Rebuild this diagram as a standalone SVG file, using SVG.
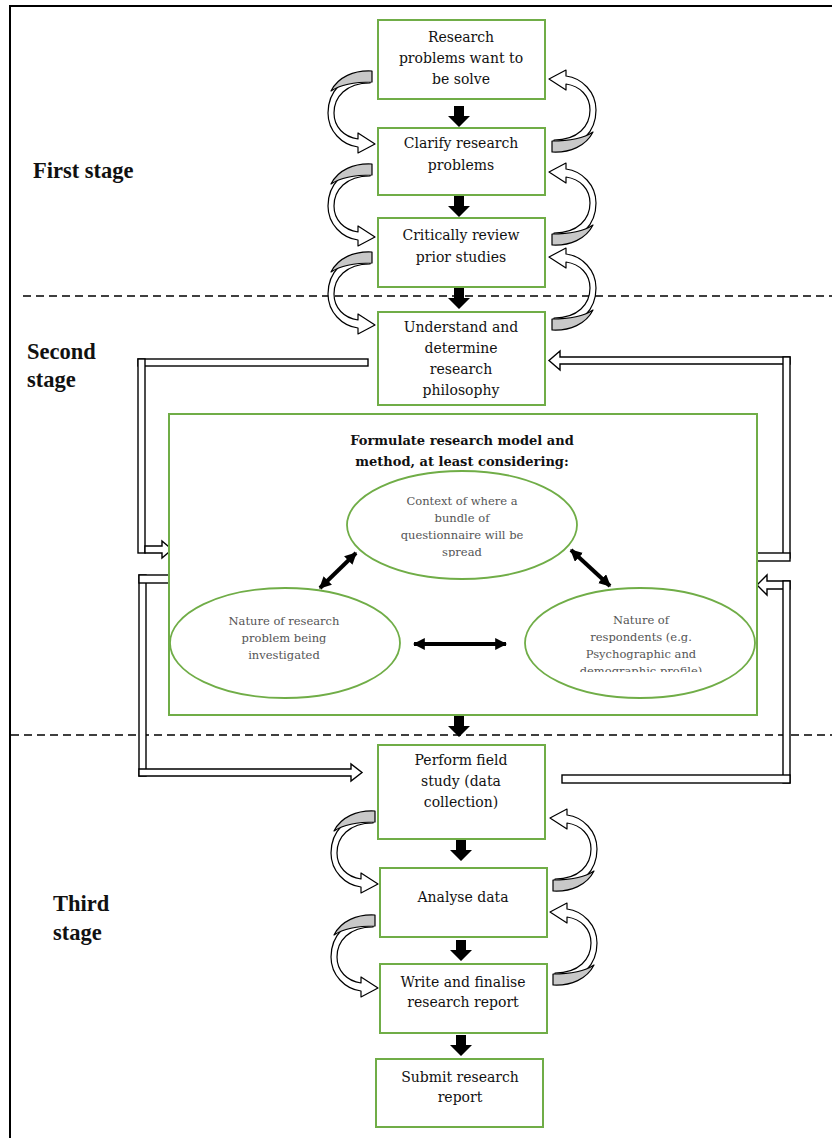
<svg xmlns="http://www.w3.org/2000/svg" xmlns:xlink="http://www.w3.org/1999/xlink" width="832" height="1138" viewBox="0 0 832 1138">
<style>
.box{fill:#fff;stroke:#70ad47;stroke-width:2}
.ell{fill:#fff;stroke:#70ad47;stroke-width:1.8}
.t{font-family:"DejaVu Serif","Liberation Serif",serif;font-size:14px;fill:#111;text-anchor:middle}
.tb{font-family:"DejaVu Serif","Liberation Serif",serif;font-size:13px;font-weight:bold;fill:#111;text-anchor:middle}
.te{font-family:"DejaVu Serif","Liberation Serif",serif;font-size:11.5px;fill:#555;text-anchor:middle}
.st{font-family:"Liberation Serif",serif;font-size:22.5px;font-weight:bold;fill:#111}
.band{fill:#fff;stroke:#000;stroke-width:1.4}
.dash{stroke:#000;stroke-width:1.5;stroke-dasharray:8,5;fill:none}
.blk{fill:#000}
.dbl{stroke:#000;stroke-width:4;fill:none}
.cw{fill:#fff;stroke:#000;stroke-width:1.2;stroke-linejoin:round}
.cg{fill:#c8c8c8;stroke:#000;stroke-width:1.2;stroke-linejoin:round}
</style>
<defs>
<g id="curvL">
<path class="cw" d="M-2,3 C-30,3 -44,22 -44,42 C-44,60 -30,74 -14,76 L-14,82 L3,73 L-14,62 L-14,68 C-28,66 -38,56 -38,42 C-38,26 -26,12 -2,12 Z"/>
<path class="cg" d="M0,0 C-18,-1 -34,6 -41,20 C-32,14 -18,11 0,11 Z"/>
</g>
<path id="down" d="M-5,0 H5 V10 H11 L0,21 L-11,10 H-5 Z"/>
<marker id="ah" viewBox="0 0 10 10" refX="9" refY="5" markerWidth="3" markerHeight="3" orient="auto-start-reverse">
<path d="M0,0 L10,5 L0,10 Z" fill="#000"/>
</marker>
<clipPath id="clipTop"><rect x="340" y="480" width="250" height="77"/></clipPath>
<clipPath id="clipRight"><rect x="520" y="600" width="240" height="72"/></clipPath>
</defs>
<rect width="832" height="1138" fill="#fff"/>
<path d="M10,1138 V6 H832" fill="none" stroke="#000" stroke-width="2"/>
<line class="dash" x1="23" y1="296" x2="832" y2="296"/>
<line class="dash" x1="11" y1="735" x2="832" y2="735"/>
<text class="st" x="33" y="178">First stage</text>
<text class="st" x="27" y="359">Second</text>
<text class="st" x="27" y="387">stage</text>
<text class="st" x="53" y="911">Third</text>
<text class="st" x="53" y="940">stage</text>

<g id="connectors">
<use xlink:href="#curvL" transform="translate(372,71)"/>
<use xlink:href="#curvL" transform="translate(372,164)"/>
<use xlink:href="#curvL" transform="translate(372,252)"/>
<use xlink:href="#curvL" transform="translate(375,811)"/>
<use xlink:href="#curvL" transform="translate(375,915)"/>
<use xlink:href="#curvL" transform="translate(552,152) rotate(180)"/>
<use xlink:href="#curvL" transform="translate(552,245) rotate(180)"/>
<use xlink:href="#curvL" transform="translate(552,330) rotate(180)"/>
<use xlink:href="#curvL" transform="translate(553,891) rotate(180)"/>
<use xlink:href="#curvL" transform="translate(553,985) rotate(180)"/>
<use xlink:href="#down" class="blk" transform="translate(459,106)"/>
<use xlink:href="#down" class="blk" transform="translate(459,196)"/>
<use xlink:href="#down" class="blk" transform="translate(459,288)"/>
<use xlink:href="#down" class="blk" transform="translate(459,716)"/>
<use xlink:href="#down" class="blk" transform="translate(461,840)"/>
<use xlink:href="#down" class="blk" transform="translate(461,940)"/>
<use xlink:href="#down" class="blk" transform="translate(461,1035)"/>
<rect class="band" x="138" y="359" width="230" height="7"/>
<rect class="band" x="138" y="359" width="7" height="194"/>
<path class="band" d="M145,546 H162 V541 L172,549.5 L162,558 V553 H145 Z"/>
<rect class="band" x="139" y="575" width="7" height="201"/>
<rect class="band" x="139" y="575" width="30" height="8"/>
<path class="band" d="M139,769 H351 V764 L362,772.5 L351,781 V776 H139 Z"/>
<path class="band" d="M790,357 H560 V351 L549,360.5 L560,370 V364 H790 Z"/>
<rect class="band" x="783" y="357" width="7" height="201"/>
<rect class="band" x="757" y="553" width="33" height="8"/>
<path class="band" d="M790,581 H767 V575 L757,585 L767,595 V589 H790 Z"/>
<rect class="band" x="783" y="581" width="7" height="202"/>
<rect class="band" x="562" y="775" width="228" height="8"/>
</g>

<g id="n1"><rect class="box" x="378" y="20" width="167" height="79"/>
<text class="t" x="461" y="42">Research</text><text class="t" x="461" y="63">problems want to</text><text class="t" x="461" y="84">be solve</text></g>
<g id="n2"><rect class="box" x="378" y="128" width="167" height="67"/>
<text class="t" x="461" y="148">Clarify research</text><text class="t" x="461" y="170">problems</text></g>
<g id="n3"><rect class="box" x="378" y="218" width="167" height="69"/>
<text class="t" x="461" y="240">Critically review</text><text class="t" x="461" y="262">prior studies</text></g>
<g id="n4"><rect class="box" x="378" y="312" width="167" height="93"/>
<text class="t" x="461" y="332">Understand and</text><text class="t" x="461" y="353">determine</text><text class="t" x="461" y="374">research</text><text class="t" x="461" y="395">philosophy</text></g>
<g id="n5"><rect class="box" x="169" y="414" width="588" height="301"/>
<text class="tb" x="462" y="445">Formulate research model and</text><text class="tb" x="462" y="466">method, at least considering:</text></g>
<g id="e1"><ellipse class="ell" cx="462" cy="525" rx="115" ry="54"/>
<g clip-path="url(#clipTop)"><text class="te" x="462" y="505">Context of where a</text><text class="te" x="462" y="522">bundle of</text><text class="te" x="462" y="539">questionnaire will be</text><text class="te" x="462" y="556">spread</text></g></g>
<g id="e2"><ellipse class="ell" cx="285" cy="643" rx="115" ry="55"/>
<text class="te" x="284" y="625">Nature of research</text><text class="te" x="284" y="642">problem being</text><text class="te" x="284" y="659">investigated</text></g>
<g id="e3"><ellipse class="ell" cx="640" cy="643" rx="115" ry="55"/>
<g clip-path="url(#clipRight)"><text class="te" x="641" y="624">Nature of</text><text class="te" x="641" y="641">respondents (e.g.</text><text class="te" x="641" y="658">Psychographic and</text><text class="te" x="641" y="675">demographic profile)</text></g></g>
<g id="relations">
<line class="dbl" x1="356" y1="553" x2="320" y2="588" marker-start="url(#ah)" marker-end="url(#ah)"/>
<line class="dbl" x1="571" y1="550" x2="610" y2="586" marker-start="url(#ah)" marker-end="url(#ah)"/>
<line class="dbl" x1="414" y1="644" x2="506" y2="644" marker-start="url(#ah)" marker-end="url(#ah)"/>
</g>
<g id="n6"><rect class="box" x="378" y="745" width="167" height="94"/>
<text class="t" x="461" y="765">Perform field</text><text class="t" x="461" y="786">study (data</text><text class="t" x="461" y="807">collection)</text></g>
<g id="n7"><rect class="box" x="380" y="868" width="167" height="69"/>
<text class="t" x="463" y="902">Analyse data</text></g>
<g id="n8"><rect class="box" x="380" y="964" width="167" height="69"/>
<text class="t" x="463" y="987">Write and finalise</text><text class="t" x="463" y="1007">research report</text></g>
<g id="n9"><rect class="box" x="376" y="1059" width="167" height="68"/>
<text class="t" x="460" y="1082">Submit research</text><text class="t" x="460" y="1102">report</text></g>
</svg>
